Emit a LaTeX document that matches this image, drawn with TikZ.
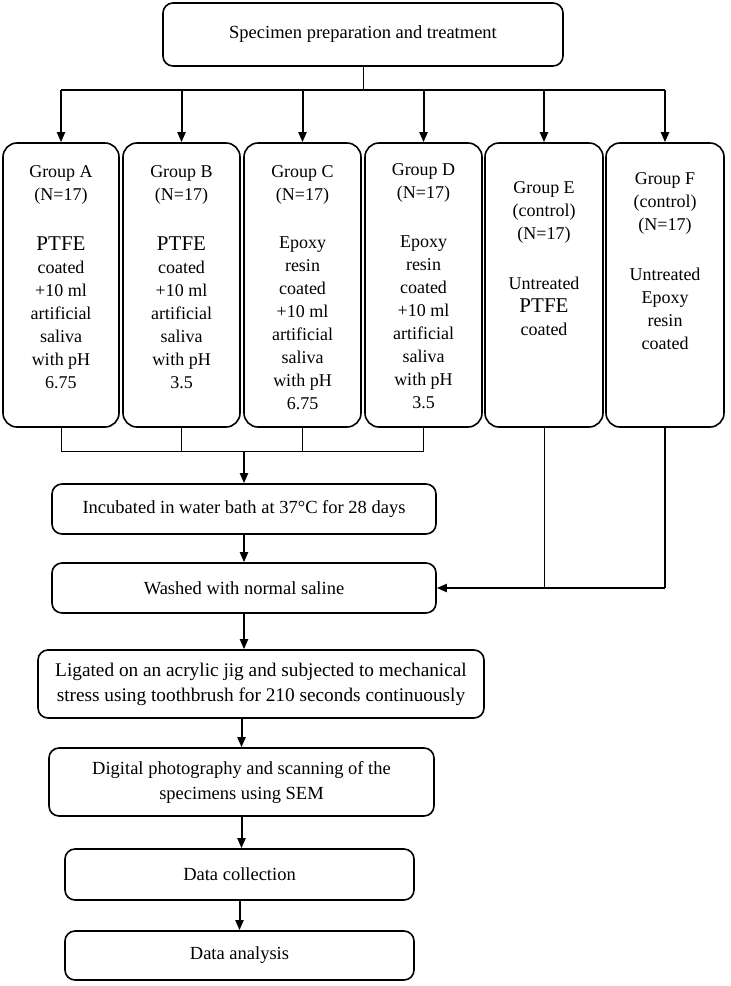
\documentclass[tikz,border=0pt]{standalone}
\usepackage{fontspec}
\setmainfont{Liberation Serif}
\usetikzlibrary{arrows.meta}
\begin{document}
\begin{tikzpicture}[x=1pt,y=-1pt,
  flowbox/.style={draw,line width=1.6pt,rounded corners=10pt,align=center,inner sep=0pt,
    font=\fontsize{18.5}{25}\selectfont},
  groupbox/.style={draw,line width=1.6pt,rounded corners=14pt,minimum height=284pt,inner sep=0pt},
  gtext/.style={anchor=north,align=center,inner sep=0pt,font=\fontsize{18}{23}\selectfont},
  arr/.style={line width=2pt,-{Triangle[length=10pt,width=8pt]}},
  thinln/.style={line width=0.8pt},
  thickln/.style={line width=1.8pt}]
\useasboundingbox (0,0) rectangle (731,986);
\fill[white] (0,0) rectangle (731,986);

\node[flowbox,minimum width=400pt,minimum height=63pt] (top) at (363,34.5) {Specimen preparation and treatment};

\node[groupbox,minimum width=116pt] (A) at (61,285) {};
\node[groupbox,minimum width=117pt] (B) at (181.5,285) {};
\node[groupbox,minimum width=117pt] (C) at (302.5,285) {};
\node[groupbox,minimum width=117pt] (D) at (423.5,285) {};
\node[groupbox,minimum width=118pt] (E) at (544,285) {};
\node[groupbox,minimum width=118pt] (F) at (665,285) {};

\newcommand{\bigw}[1]{{\fontsize{21}{23}\selectfont #1}}
\node[gtext] (tA) at (61,165) {Group A\\(N=17)\\[27pt]\bigw{PTFE}\\coated\\+10 ml\\artificial\\saliva\\with pH\\6.75};
\node[gtext] (tB) at (181.5,165) {Group B\\(N=17)\\[27pt]\bigw{PTFE}\\coated\\+10 ml\\artificial\\saliva\\with pH\\3.5};
\node[gtext] (tC) at (302.5,165) {Group C\\(N=17)\\[25pt]Epoxy\\resin\\coated\\+10 ml\\artificial\\saliva\\with pH\\6.75};
\node[gtext] (tD) at (423.5,163) {Group D\\(N=17)\\[26pt]Epoxy\\resin\\coated\\+10 ml\\artificial\\saliva\\with pH\\3.5};
\node[gtext] (tE) at (544,181) {Group E\\(control)\\(N=17)\\[27pt]Untreated\\\bigw{PTFE}\\coated};
\node[gtext] (tF) at (665,172) {Group F\\(control)\\(N=17)\\[27pt]Untreated\\Epoxy\\resin\\coated};

\node[flowbox,minimum width=384pt,minimum height=50pt] (inc) at (244,509) {Incubated in water bath at 37°C for 28 days};
\node[flowbox,minimum width=384pt,minimum height=50pt] (wash) at (244,588) {Washed with normal saline};
\node[flowbox,minimum width=446pt,minimum height=68pt,font=\fontsize{19.3}{25}\selectfont] (lig) at (261,684) {Ligated on an acrylic jig and subjected to mechanical\\stress using toothbrush for 210 seconds continuously};
\node[flowbox,minimum width=385pt,minimum height=68pt] (dig) at (241.5,782) {Digital photography and scanning of the\\specimens using SEM};
\node[flowbox,minimum width=349pt,minimum height=51pt] (dc) at (239.5,874.5) {Data collection};
\node[flowbox,minimum width=349pt,minimum height=49pt] (da) at (239.5,955.5) {Data analysis};

% top distribution
\coordinate (hL) at (61,90);
\coordinate (hR) at (665,90);
\draw[thinln] (top.south) -- (top.south |- hL);
\draw[thickln] (hL) -- (hR);
\foreach \g in {A,B,C,D,E,F} {\draw[arr] (\g.north |- hL) -- (\g.north);}

% collect A-D
\coordinate (bL) at (61,451);
\draw[thinln] (A.south) -- (A.south |- bL) -- (D.south |- bL) -- (D.south);
\draw[thinln] (B.south) -- (B.south |- bL);
\draw[thinln] (C.south) -- (C.south |- bL);
\draw[arr] (inc.north |- bL) -- (inc.north);
\draw[arr] (inc.south) -- (wash.north);

% controls
\draw[thinln] (E.south) -- (E.south |- wash.east);
\draw[thickln] (F.south) -- (F.south |- wash.east);
\draw[arr] (F.south |- wash.east) -- (wash.east);

% lower chain
\draw[arr] (wash.south) -- (wash.south |- lig.north);
\draw[arr] (lig.south -| dig.north) -- (dig.north);
\draw[arr] (dig.south) -- (dig.south |- dc.north);
\draw[arr] (dc.south) -- (da.north);
\end{tikzpicture}
\end{document}
